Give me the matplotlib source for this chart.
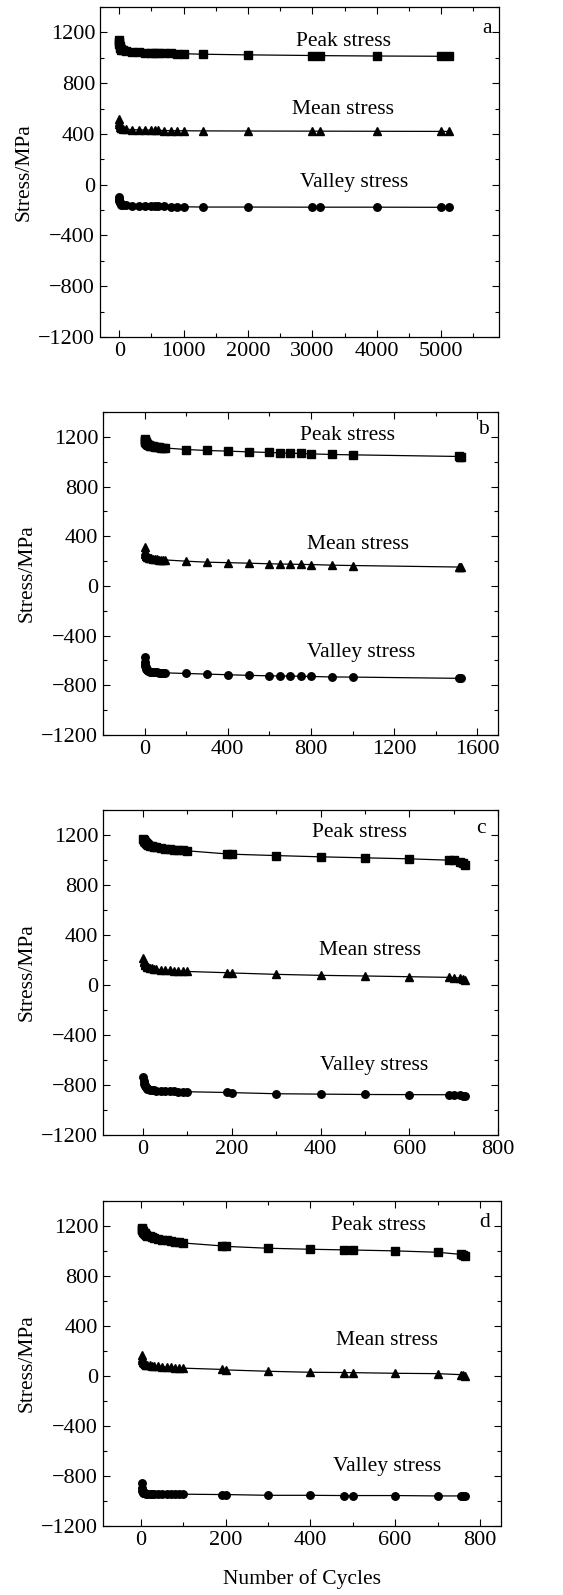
import matplotlib
matplotlib.use("Agg")
import matplotlib.pyplot as plt
from matplotlib.ticker import MultipleLocator

plt.rcParams['font.family'] = ['Liberation Serif', 'DejaVu Serif']
plt.rcParams['axes.unicode_minus'] = True

# ============================================================================
# panel a
cycles_a = [1, 2, 3, 5, 10, 20, 30, 50, 100, 200, 300, 400, 500, 550, 600, 700,
            800, 900, 1000, 1300, 2000, 3000, 3120, 4000, 5000, 5120]
peak_a = [1140, 1125, 1110, 1095, 1080, 1070, 1064, 1058, 1052, 1047, 1044, 1041, 1039,
          1038, 1037, 1035, 1034, 1033, 1032, 1028, 1023, 1018, 1017, 1014, 1012, 1012]
mean_a = [515, 495, 482, 470, 458, 450, 445, 441, 437, 434, 432, 431, 430, 429, 428,
          427, 426, 425, 425, 424, 423, 422, 422, 421, 420, 420]
valley_a = [-100, -115, -125, -135, -145, -152, -156, -160, -163, -165, -167, -168, -169,
            -169, -170, -171, -172, -173, -174, -176, -176, -177, -177, -177, -178, -178]

# panel b
cycles_b = [1, 2, 3, 4, 5, 6, 8, 10, 12, 15, 20, 25, 30, 40, 50, 60, 70, 80, 90, 100,
            200, 300, 400, 500, 600, 650, 700, 750, 800, 900, 1000, 1510, 1515, 1520]
peak_b = [1185, 1175, 1168, 1162, 1157, 1153, 1148, 1144, 1141, 1137, 1133, 1130, 1127,
          1123, 1120, 1117, 1115, 1113, 1111, 1110, 1098, 1090, 1085, 1079, 1074, 1071,
          1068, 1066, 1063, 1058, 1055, 1042, 1041, 1040]
mean_b = [310, 280, 268, 260, 254, 250, 244, 240, 236, 232, 228, 225, 222, 219, 216, 214,
          212, 211, 210, 209, 199, 191, 187, 183, 178, 176, 175, 173, 172, 167, 164, 152,
          151, 150]
valley_b = [-575, -610, -630, -645, -655, -662, -670, -676, -680, -684, -688, -690, -692,
            -694, -696, -697, -698, -699, -700, -700, -705, -710, -715, -720, -724, -725,
            -726, -727, -729, -733, -734, -744, -745, -745]

# panel c
cycles_c = [1, 2, 3, 4, 5, 6, 8, 10, 12, 15, 20, 25, 30, 40, 50, 60, 70, 80, 90, 100,
            190, 200, 300, 400, 500, 600, 690, 700, 715, 720, 725]
peak_c = [1165, 1158, 1150, 1145, 1140, 1136, 1130, 1125, 1120, 1115, 1110, 1105, 1100,
          1095, 1090, 1086, 1083, 1080, 1076, 1073, 1048, 1046, 1035, 1025, 1017, 1009,
          998, 996, 985, 975, 960]
mean_c = [215, 195, 180, 170, 162, 156, 150, 145, 141, 137, 133, 129, 126, 122, 119, 116,
          114, 112, 110, 108, 98, 96, 85, 77, 72, 66, 61, 59, 55, 48, 38]
valley_c = [-735, -770, -790, -803, -812, -818, -825, -830, -834, -838, -841, -844, -846,
            -848, -850, -851, -852, -853, -853, -854, -860, -861, -870, -873, -876, -877,
            -878, -878, -882, -885, -887]

# panel d
cycles_d = [1, 2, 3, 4, 5, 6, 8, 10, 12, 15, 20, 25, 30, 40, 50, 60, 70, 80, 90, 100,
            190, 200, 300, 400, 480, 500, 600, 700, 755, 760, 765]
peak_d = [1180, 1172, 1165, 1158, 1152, 1147, 1140, 1134, 1129, 1123, 1116, 1110, 1105,
          1097, 1090, 1084, 1078, 1073, 1068, 1063, 1040, 1036, 1021, 1013, 1008, 1007,
          1000, 989, 972, 966, 960]
mean_d = [165, 140, 125, 115, 108, 103, 97, 93, 90, 87, 84, 81, 79, 76, 73, 70, 68, 66,
          64, 62, 52, 48, 37, 29, 27, 26, 21, 18, 10, 7, 3]
valley_d = [-855, -900, -920, -930, -935, -937, -939, -940, -941, -941, -942, -942, -943,
            -943, -944, -944, -945, -945, -946, -946, -949, -949, -955, -955, -957, -957,
            -957, -960, -960, -960, -960]

panel_letters = ['a', 'b', 'c', 'd']
series_labels = ['Peak stress', 'Mean stress', 'Valley stress']
# ============================================================================

fig = plt.figure(figsize=(5.63, 15.95), dpi=100)

panels = [
    dict(rect=[0.1776, 0.7887, 0.7087, 0.2069], x=cycles_a, ys=[peak_a, mean_a, valley_a],
         xlim=(-300, 5900), xmaj=1000, xmin=500,
         txt=[(0.61, 0.895), (0.61, 0.688), (0.636, 0.468)], let=(0.97, 0.936)),
    dict(rect=[0.183, 0.5392, 0.7016, 0.2025], x=cycles_b, ys=[peak_b, mean_b, valley_b],
         xlim=(-200, 1700), xmaj=400, xmin=200,
         txt=[(0.62, 0.926), (0.646, 0.59), (0.653, 0.255)], let=(0.962, 0.947)),
    dict(rect=[0.183, 0.2884, 0.7016, 0.2038], x=cycles_c, ys=[peak_c, mean_c, valley_c],
         xlim=(-90, 800), xmaj=200, xmin=100,
         txt=[(0.65, 0.931), (0.675, 0.567), (0.686, 0.215)], let=(0.956, 0.944)),
    dict(rect=[0.183, 0.0433, 0.7069, 0.2038], x=cycles_d, ys=[peak_d, mean_d, valley_d],
         xlim=(-90, 850), xmaj=200, xmin=100,
         txt=[(0.692, 0.924), (0.714, 0.569), (0.715, 0.182)], let=(0.958, 0.932)),
]

markers = ['s', '^', 'o']

for i, p in enumerate(panels):
    ax = fig.add_axes(p['rect'])
    for y, m in zip(p['ys'], markers):
        ax.plot(p['x'], y, color='black', lw=0.9, marker=m, ms=5.4, mec='black', mfc='black')
    ax.set_xlim(*p['xlim'])
    ax.set_ylim(-1200, 1400)
    ax.yaxis.set_major_locator(MultipleLocator(400))
    ax.yaxis.set_minor_locator(MultipleLocator(200))
    ax.xaxis.set_major_locator(MultipleLocator(p['xmaj']))
    ax.xaxis.set_minor_locator(MultipleLocator(p['xmin']))
    ax.tick_params(which='both', direction='in', top=True, right=True, labelsize=16)
    ax.tick_params(which='major', length=5, width=0.8)
    ax.tick_params(which='minor', length=3, width=0.8)
    for s in ax.spines.values():
        s.set_linewidth(0.9)
    ax.set_ylabel('Stress/MPa', fontsize=15.5, labelpad=3)
    for (tx, ty), lab in zip(p['txt'], series_labels):
        ax.text(tx, ty, lab, transform=ax.transAxes, ha='center', va='center', fontsize=15.5)
    ax.text(p['let'][0], p['let'][1], panel_letters[i], transform=ax.transAxes,
            ha='center', va='center', fontsize=15.5)
    if i == 3:
        ax.set_xlabel('Number of Cycles', fontsize=15.5, labelpad=14)

plt.savefig('out.png', dpi=100)
